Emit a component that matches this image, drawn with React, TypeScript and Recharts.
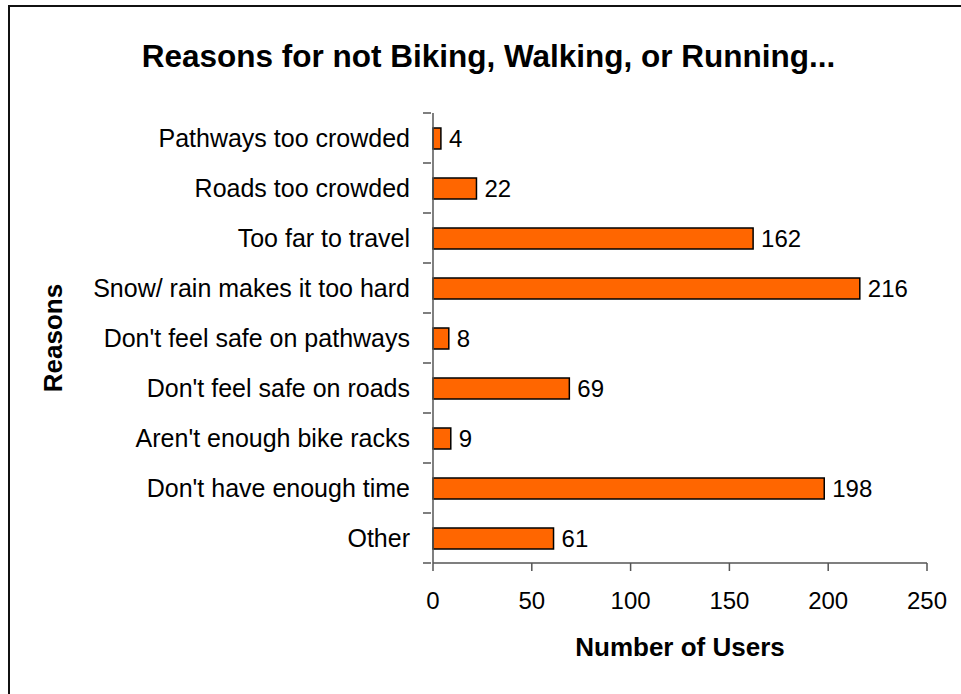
import React from 'react';
import { BarChart, Bar, XAxis, YAxis, LabelList } from 'recharts';

const reasons = [
  'Pathways too crowded',
  'Roads too crowded',
  'Too far to travel',
  'Snow/ rain makes it too hard',
  "Don't feel safe on pathways",
  "Don't feel safe on roads",
  "Aren't enough bike racks",
  "Don't have enough time",
  'Other',
];
const users = [4, 22, 162, 216, 8, 69, 9, 198, 61];
const xTicks = [0, 50, 100, 150, 200, 250];

const data = reasons.map((reason, i) => ({ reason, users: users[i] }));

const FONT = '"Liberation Sans", Arial, sans-serif';
const W = 961;
const H = 694;
const MARGIN = { top: 113, right: 34, bottom: 71, left: 0 };
const X_AXIS_H = 60;
const BAND = (H - MARGIN.top - MARGIN.bottom - X_AXIS_H) / reasons.length;

// category tick: label in the band centre, tick mark on the band edges (Excel style)
const ReasonTick = (props: any) => {
  const { x, y, payload, index } = props;
  const axisX = x + 8;
  return (
    <g>
      {index === 0 && (
        <line x1={axisX - 8} x2={axisX} y1={y - BAND / 2} y2={y - BAND / 2} stroke="#555" strokeWidth={1.5} />
      )}
      <line x1={axisX - 8} x2={axisX} y1={y + BAND / 2} y2={y + BAND / 2} stroke="#555" strokeWidth={1.5} />
      <text x={x - 13} y={y} dy="0.355em" textAnchor="end" fontSize={25} fontFamily={FONT} fill="#000">
        {payload.value}
      </text>
    </g>
  );
};

export default function App() {
  return (
    <div style={{ position: 'fixed', left: 0, top: 0, width: W, height: H, overflow: 'hidden', background: '#fff' }}>
      <div
        style={{
          position: 'absolute',
          left: 8,
          top: 5,
          width: 1100,
          height: 1100,
          border: '2px solid #111',
        }}
      />
      <div
        style={{
          position: 'absolute',
          left: 8,
          top: 40,
          width: W,
          textAlign: 'center',
          fontFamily: FONT,
          fontWeight: 'bold',
          fontSize: 31.5,
          lineHeight: '32px',
          color: '#000',
        }}
      >
        Reasons for not Biking, Walking, or Running...
      </div>
      <div style={{ position: 'absolute', left: 0, top: 0 }}>
        <BarChart width={W} height={H} data={data} layout="vertical" margin={MARGIN} barSize={21}>
          <XAxis
            type="number"
            dataKey="users"
            domain={[0, 250]}
            ticks={xTicks}
            height={X_AXIS_H}
            stroke="#555"
            strokeWidth={1.5}
            tickSize={8}
            tickMargin={21}
            tick={{ fill: '#000', fontSize: 24, fontFamily: FONT }}
            label={{
              value: 'Number of Users',
              position: 'bottom',
              offset: 15,
              fill: '#000',
              fontSize: 26,
              fontWeight: 'bold',
              fontFamily: FONT,
            }}
          />
          <YAxis
            type="category"
            dataKey="reason"
            width={433}
            stroke="#555"
            strokeWidth={1.5}
            tickLine={false}
            tickSize={8}
            tick={<ReasonTick />}
            interval={0}
            label={{
              value: 'Reasons',
              angle: -90,
              position: 'insideLeft',
              offset: 53,
              fill: '#000',
              fontSize: 26,
              fontWeight: 'bold',
              fontFamily: FONT,
              style: { textAnchor: 'middle' },
            }}
          />
          <Bar dataKey="users" fill="#FF6600" stroke="#000" strokeWidth={1.5} isAnimationActive={false}>
            <LabelList dataKey="users" position="right" offset={8} fill="#000" fontSize={24} fontFamily={FONT} />
          </Bar>
        </BarChart>
      </div>
    </div>
  );
}
